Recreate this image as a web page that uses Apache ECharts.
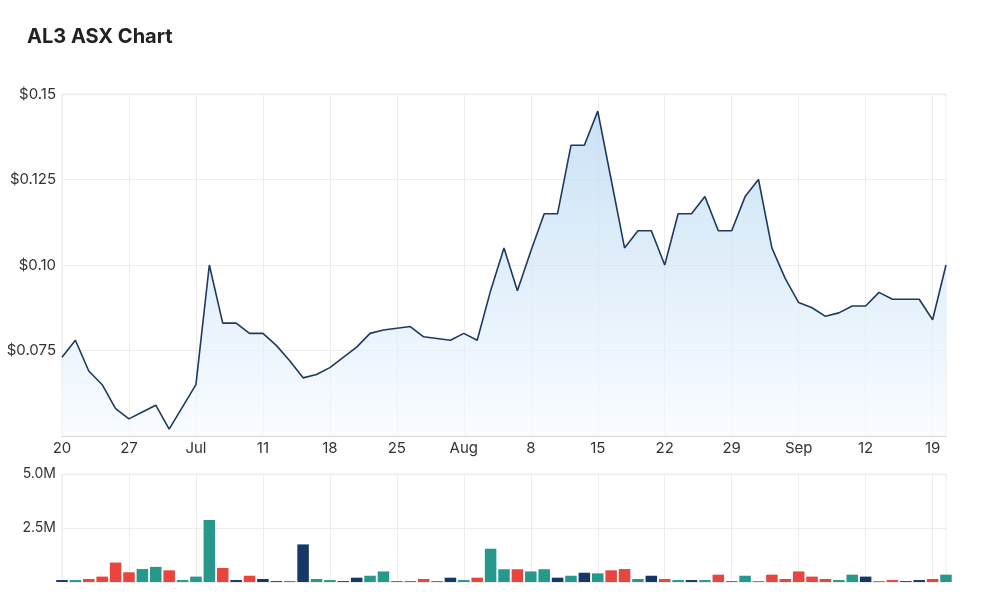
<!DOCTYPE html>
<html>
<head>
<meta charset="utf-8">
<title>AL3 ASX Chart</title>
<script src="https://cdn.jsdelivr.net/npm/echarts@6/dist/echarts.min.js"></script>
<style>
  html, body { margin: 0; padding: 0; background: #fff; }
  #chart { width: 1000px; height: 601px; }
</style>
</head>
<body>
<div id="chart"></div>
<script>
// trading days, Jun 20 - Sep 20 2022
const dates = [
  '2022-06-20','2022-06-21','2022-06-22','2022-06-23','2022-06-24',
  '2022-06-27','2022-06-28','2022-06-29','2022-06-30','2022-07-01',
  '2022-07-04','2022-07-05','2022-07-06','2022-07-07','2022-07-08',
  '2022-07-11','2022-07-12','2022-07-13','2022-07-14','2022-07-15',
  '2022-07-18','2022-07-19','2022-07-20','2022-07-21','2022-07-22',
  '2022-07-25','2022-07-26','2022-07-27','2022-07-28','2022-07-29',
  '2022-08-01','2022-08-02','2022-08-03','2022-08-04','2022-08-05',
  '2022-08-08','2022-08-09','2022-08-10','2022-08-11','2022-08-12',
  '2022-08-15','2022-08-16','2022-08-17','2022-08-18','2022-08-19',
  '2022-08-22','2022-08-23','2022-08-24','2022-08-25','2022-08-26',
  '2022-08-29','2022-08-30','2022-08-31','2022-09-01','2022-09-02',
  '2022-09-05','2022-09-06','2022-09-07','2022-09-08','2022-09-09',
  '2022-09-12','2022-09-13','2022-09-14','2022-09-15','2022-09-16',
  '2022-09-19','2022-09-20'
];

const prices = [
  0.073, 0.078, 0.069, 0.065, 0.058,
  0.055, 0.057, 0.059, 0.052, 0.0585,
  0.065, 0.100, 0.083, 0.083, 0.080,
  0.080, 0.0765, 0.072, 0.067, 0.068,
  0.070, 0.073, 0.076, 0.080, 0.081,
  0.0815, 0.082, 0.079, 0.0785, 0.078,
  0.080, 0.078, 0.0925, 0.105, 0.0925,
  0.104, 0.115, 0.115, 0.135, 0.135,
  0.145, 0.125, 0.105, 0.110, 0.110,
  0.100, 0.115, 0.115, 0.120, 0.110,
  0.110, 0.120, 0.125, 0.105, 0.096,
  0.089, 0.0875, 0.085, 0.086, 0.088,
  0.088, 0.092, 0.090, 0.090, 0.090,
  0.084, 0.100
];

// volume in millions
const volumes = [
  0.09, 0.09, 0.14, 0.25, 0.90,
  0.45, 0.60, 0.70, 0.54, 0.09,
  0.25, 2.87, 0.65, 0.09, 0.29,
  0.14, 0.04, 0.03, 1.74, 0.14,
  0.09, 0.04, 0.20, 0.29, 0.49,
  0.03, 0.03, 0.14, 0.03, 0.20,
  0.09, 0.20, 1.54, 0.59, 0.59,
  0.49, 0.59, 0.20, 0.29, 0.43,
  0.40, 0.54, 0.60, 0.14, 0.29,
  0.14, 0.09, 0.09, 0.09, 0.34,
  0.03, 0.29, 0.04, 0.34, 0.14,
  0.49, 0.25, 0.14, 0.09, 0.34,
  0.25, 0.04, 0.09, 0.04, 0.09,
  0.14, 0.34
];

// u = up, d = down, f = flat
const volumeDir = [
  'f','u','d','d','d',
  'd','u','u','d','u',
  'u','u','d','f','d',
  'f','f','f','f','u',
  'u','f','f','u','u',
  'f','f','d','f','f',
  'u','d','u','u','d',
  'u','u','f','u','f',
  'u','d','d','u','f',
  'd','u','f','u','d',
  'f','u','u','d','d',
  'd','d','d','u','u',
  'f','u','d','f','f',
  'd','u'
];

const tickDates = ['2022-06-20','2022-06-27','2022-07-04','2022-07-11','2022-07-18','2022-07-25',
  '2022-08-01','2022-08-08','2022-08-15','2022-08-22','2022-08-29','2022-09-05','2022-09-12','2022-09-19'];
const tickLabels = ['20','27','Jul','11','18','25','Aug','8','15','22','29','Sep','12','19'];

const dirColors = { u: '#26998c', d: '#e8453f', f: '#173767' };
const gridLine = '#ececec';
const font = 'Inter, "Noto Sans", sans-serif';

const isTick = (idx, val) => tickDates.indexOf(val) >= 0;

const chart = echarts.init(document.getElementById('chart'));

const option = {
  animation: false,
  title: {
    text: 'AL3 ASX Chart',
    left: 27, top: 27, padding: 0,
    textStyle: { fontFamily: font, fontSize: 20, fontWeight: 'bold', color: '#222' }
  },
  grid: [
    { left: 62, right: 54, top: 94, height: 342, show: true, borderColor: gridLine, borderWidth: 1 },
    { left: 62, right: 54, top: 474, height: 108, show: true, borderColor: gridLine, borderWidth: 1 }
  ],
  xAxis: [
    {
      type: 'category', gridIndex: 0, data: dates, boundaryGap: false,
      axisLine: { lineStyle: { color: '#dcdcdc' } },
      axisTick: { show: false },
      axisLabel: {
        interval: isTick, margin: 5,
        color: '#333', fontSize: 15, fontFamily: font,
        formatter: v => tickLabels[tickDates.indexOf(v)]
      },
      splitLine: { show: true, interval: isTick, lineStyle: { color: gridLine } }
    },
    {
      type: 'category', gridIndex: 1, data: dates, boundaryGap: false,
      axisLine: { lineStyle: { color: '#ececec' } },
      axisTick: { show: false },
      axisLabel: { show: false },
      splitLine: { show: true, interval: isTick, lineStyle: { color: gridLine } }
    }
  ],
  yAxis: [
    {
      type: 'value', gridIndex: 0, min: 0.05, max: 0.15, interval: 0.025,
      axisLine: { show: false }, axisTick: { show: false },
      axisLabel: {
        showMinLabel: false, margin: 6,
        color: '#333', fontSize: 15, fontFamily: font,
        formatter: v => '$' + v.toFixed(3).replace(/0$/, '')
      },
      splitLine: { lineStyle: { color: gridLine } }
    },
    {
      type: 'value', gridIndex: 1, min: 0, max: 5, interval: 2.5,
      axisLine: { show: false }, axisTick: { show: false },
      axisLabel: {
        showMinLabel: false, margin: 6,
        color: '#333', fontSize: 14, fontFamily: font,
        formatter: v => v.toFixed(1) + 'M'
      },
      splitLine: { lineStyle: { color: gridLine } }
    }
  ],
  series: [
    {
      name: 'Price', type: 'line', xAxisIndex: 0, yAxisIndex: 0,
      data: prices, showSymbol: false, symbol: 'none',
      lineStyle: { color: '#1f3a5f', width: 1.6 },
      areaStyle: {
        color: new echarts.graphic.LinearGradient(0, 0, 0, 1, [
          { offset: 0, color: '#b3d4f0' },
          { offset: 1, color: '#f7fbff' }
        ])
      }
    },
    {
      name: 'Volume', type: 'bar', xAxisIndex: 1, yAxisIndex: 1,
      barCategoryGap: '14%', clip: true,
      data: volumes.map((v, i) => ({ value: v, itemStyle: { color: dirColors[volumeDir[i]] } }))
    }
  ]
};

chart.setOption(option);
</script>
</body>
</html>
